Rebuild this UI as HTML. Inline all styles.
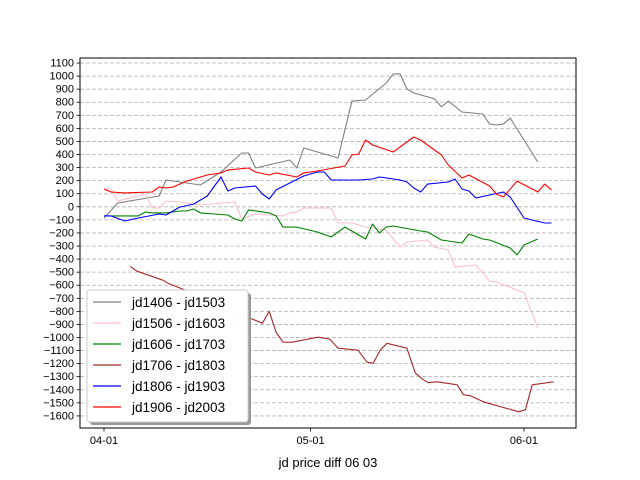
<!DOCTYPE html>
<html><head><meta charset="utf-8"><style>
body{margin:0;background:#fff;}
svg{display:block;font-family:"Liberation Sans","DejaVu Sans",sans-serif;}
</style></head><body>
<svg id="chart" width="640" height="480"></svg>
<script>
const xTickLabels=["04-01","05-01","06-01"];
const xTickDays=[0,30,61];
const yTicks=[];for(let v=-1600;v<=1100;v+=100)yTicks.push(v);
const seriesNames=["jd1406 - jd1503","jd1506 - jd1603","jd1606 - jd1703","jd1706 - jd1803","jd1806 - jd1903","jd1906 - jd2003"];
const seriesColors=["gray","pink","green","brown","blue","red"];
const grayDays=[0,2,8,9,14,17,20,21,22,27,28,29,34,36,38,41,42,43,44,45,48,49,50,52,55,56,57,58,59,63];
const grayVals=[-86,29,83,205,167,266,412,412,297,358,297,450,373,809,817,947,1017,1017,902,871,826,764,809,725,710,633,626,633,679,343];
const pinkDays=[0,1,2,6,7,8,9,11,13,14,19,20,22,24,26,27,28,29,33,34,36,38,39,41,43,44,47,48,50,51,54,56,57,61,63];
const pinkVals=[136,136,44,98,-9,-9,44,37,21,14,37,-93,-55,-63,-70,-47,-40,-9,-9,-124,-124,-155,-162,-178,-308,-270,-254,-308,-331,-461,-445,-568,-575,-658,-926];
const greenDays=[0,1,5,6,7,9,11,12,13,14,16,18,19,20,21,24,25,26,28,31,33,35,38,39,40,41,42,46,47,49,52,53,55,56,59,60,61,63];
const greenVals=[-70,-70,-70,-40,-47,-47,-32,-32,-17,-47,-55,-63,-93,-109,-24,-47,-70,-155,-155,-193,-231,-155,-246,-132,-200,-155,-147,-185,-193,-254,-277,-208,-246,-254,-315,-368,-292,-246];
const brownDays=[3.8,4.8,8.6,9.3,14,18.3,20.9,23,24,25,26,27.3,31.1,32.8,34,36.9,38.2,39.1,40.1,41.1,44,45.2,46.2,47.1,48.4,51.3,52.2,53.2,55.1,60.2,61.2,62.2,65.3];
const brownVals=[-455,-493,-562,-585,-684,-791,-845,-891,-799,-960,-1036,-1036,-998,-1013,-1082,-1097,-1189,-1197,-1097,-1044,-1082,-1270,-1316,-1346,-1339,-1362,-1438,-1446,-1492,-1568,-1553,-1362,-1339];
const blueDays=[0,1,3,5,8,9,11,13,15,17,18,19,22,23,24,25,29,31,32,33,37,39,40,43,44,45,46,47,50,51,52,53,54,58,59,61,64,65];
const blueVals=[-70,-70,-109,-86,-55,-63,-2,21,83,228,121,144,159,98,60,129,236,266,266,205,205,213,228,205,190,144,113,174,190,213,136,121,67,113,75,-86,-124,-124];
const redDays=[0,1,3,7,8,9,10,12,14,15,17,18,21,22,24,25,28,29,31,35,36,37,38,39,42,43,44,45,46,49,50,52,53,56,57,58,60,63,64,65];
const redVals=[136,113,106,113,151,144,151,197,228,243,259,282,297,266,243,259,228,259,274,312,396,404,511,473,419,458,496,534,511,396,320,220,243,159,98,75,197,113,174,129];

const L=80,R=576,T=58,B=428;
const xs=d=>104+d*6.885;
const ys=v=>206.8-v*0.1307;
const NS="http://www.w3.org/2000/svg";
const svg=document.getElementById('chart');
function mk(tag,at,parent){const e=document.createElementNS(NS,tag);for(const k in at)e.setAttribute(k,at[k]);(parent||svg).appendChild(e);return e;}

yTicks.forEach(v=>{
  const y=ys(v);
  const g=mk('line',{x1:L,x2:R,y1:y,y2:y,stroke:'#b0b0b0','stroke-dasharray':'4,2','stroke-width':0.8});
  
  
  const t=mk('line',{x1:L-3.5,x2:L,y1:y,y2:y,stroke:'#000','stroke-width':0.8});
  
  
  const lb=mk('text',{x:L-6,y:y+3.5,'text-anchor':'end','font-size':'11px',fill:'#000'});
  lb.textContent=v<0?'\u2212'+(-v):String(v);
  
  
});
xTickDays.forEach((d,i)=>{
  const x=xs(d);
  const t=mk('line',{x1:x,x2:x,y1:B,y2:B+3.5,stroke:'#000','stroke-width':0.8});
  
  
  const lb=mk('text',{x:x,y:B+16,'text-anchor':'middle','font-size':'11px',fill:'#000'});
  lb.textContent=xTickLabels[i];
  
  
});
const allDays=[grayDays,pinkDays,greenDays,brownDays,blueDays,redDays];
const allVals=[grayVals,pinkVals,greenVals,brownVals,blueVals,redVals];
allDays.forEach((ds,i)=>{
  const pts=ds.map((d,j)=>xs(d).toFixed(1)+','+ys(allVals[i][j]).toFixed(1)).join(' ');
  const p=mk('polyline',{points:pts,fill:'none',stroke:seriesColors[i],'stroke-width':1.1,'stroke-linejoin':'round'});
  
  
});
const frame=mk('rect',{x:L,y:T,width:R-L,height:B-T,fill:'none',stroke:'#000','stroke-width':1});


const xl=mk('text',{x:328,y:467,'text-anchor':'middle','font-size':'13px',fill:'#000'});
xl.textContent='jd price diff 06 03';


// legend
const lg=mk('g',{});


mk('rect',{x:90,y:293,width:161,height:132,rx:3,fill:'#999'},lg);
mk('rect',{x:87,y:290,width:161,height:132,rx:3,fill:'#fff',stroke:'#ccc','stroke-width':1},lg);
seriesNames.forEach((n,i)=>{
  const y=302+i*21;
  const e=mk('g',{},lg);
  
  
  mk('line',{x1:93,x2:121,y1:y,y2:y,stroke:seriesColors[i],'stroke-width':1.2},e);
  const t=mk('text',{x:132,y:y+5,'font-size':'13.5px',fill:'#000'},e);
  t.textContent=n;
});
</script>
</body></html>
